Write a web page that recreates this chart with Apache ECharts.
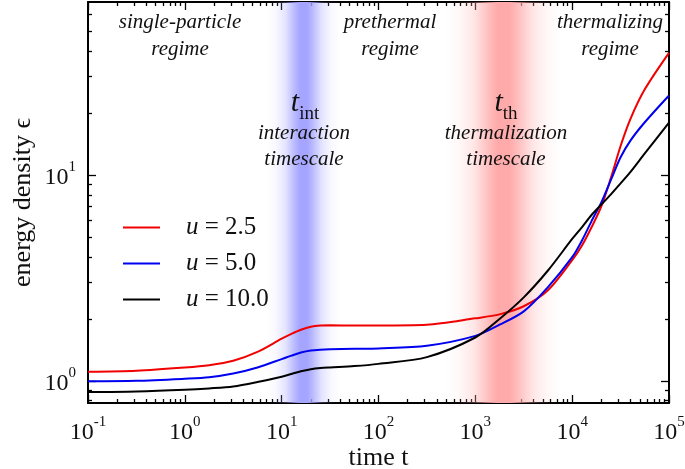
<!DOCTYPE html>
<html><head><meta charset="utf-8">
<script src="https://cdn.jsdelivr.net/npm/echarts@6/dist/echarts.min.js"></script>
<style>html,body{margin:0;padding:0;background:#fff}#c{width:685px;height:469px}</style>
</head><body><div id="c"></div>
<script>
// ---- data ----
const timeGrid = [0.1, 0.316, 1, 1.78, 3.16, 5.62, 10, 12.6, 15.8, 20, 25.1, 31.6, 56.2, 100, 316, 1000, 1778, 3162, 5623, 10000, 12589, 15849, 19953, 25119, 31623, 39811, 56234, 100000];
const seriesNames = ['u = 2.5', 'u = 5.0', 'u = 10.0'];
const uValues = ['2.5', '5.0', '10.0'];
const seriesColors = ['#f00000', '#0000f0', '#000000'];
const energyU25 = [1.106,1.12,1.16,1.19,1.25,1.38,1.60,1.69,1.77,1.83,1.855,1.86,1.855,1.855,1.87,2.01,2.10,2.30,2.75,3.85,4.52,5.56,7.0,9.66,13.8,18.6,26.0,39.1];
const energyU50 = [0.995,1.0,1.023,1.04,1.084,1.161,1.274,1.324,1.371,1.403,1.416,1.422,1.429,1.435,1.479,1.652,1.871,2.173,2.851,3.981,4.786,5.957,7.328,9.441,12.16,14.62,17.99,24.27];
const energyU100 = [0.881,0.887,0.904,0.918,0.938,0.986,1.047,1.079,1.112,1.138,1.153,1.161,1.178,1.208,1.303,1.622,1.995,2.54,3.43,4.88,5.56,6.38,7.16,8.04,9.08,10.3,12.7,17.9];
const xMajorTicks = [0.1, 1, 10, 100, 1000, 10000, 100000];
const xTickExponents = ['-1', '0', '1', '2', '3', '4', '5'];
const yMajorTicks = [1, 10];
const yTickExponents = ['0', '1'];
const yMinorTicks = [0.8, 0.9, 2, 3, 4, 5, 6, 7, 8, 9, 20, 30, 40, 50, 60];
const xRange = [0.1, 100000];
const yRange = [0.78, 69];
const interactionBand = [7.1, 40];
const thermalizationBand = [486, 7850];

const xMinorTicks = [];
for (let d = 0.1; d < 100000; d *= 10) for (let m = 2; m <= 9; m++) xMinorTicks.push(+(d * m).toPrecision(3));

const FONT = '"Liberation Serif", "DejaVu Serif", serif';

const chart = echarts.init(document.getElementById('c'), null, {renderer: 'canvas'});

function tickLabel(ticks, exps) {
  return function (v) {
    let i = -1, best = 1e9;
    ticks.forEach((t, k) => { const e = Math.abs(Math.log10(t) - Math.log10(v)); if (e < best) { best = e; i = k; } });
    return '{b|10}{s|' + exps[i] + '}';
  };
}
const labelRich = {
  b: {fontFamily: FONT, fontSize: 24, color: '#111', lineHeight: 30, verticalAlign: 'bottom'},
  s: {fontFamily: FONT, fontSize: 15, color: '#111', lineHeight: 30, verticalAlign: 'top', padding: [0, 0, 10, 0]}
};

function xAx(pos, ticks, len, labels, line) {
  return {
    type: 'log', logBase: 10, position: pos, min: xRange[0], max: xRange[1],
    axisLine: {show: line, onZero: false, lineStyle: {color: '#000', width: 2}},
    axisTick: {show: true, inside: true, length: len, customValues: ticks, lineStyle: {color: '#000', width: 1.3}},
    axisLabel: labels ? {show: true, customValues: ticks, margin: 12, formatter: tickLabel(xMajorTicks, xTickExponents), rich: labelRich} : {show: false},
    splitLine: {show: false},
    name: labels ? 'time t' : '', nameLocation: 'middle', nameGap: 42, nameMoveOverlap: false,
    nameTextStyle: {fontFamily: FONT, fontSize: 26, color: '#111'}
  };
}
function yAx(pos, ticks, len, labels, line) {
  return {
    type: 'log', logBase: 10, position: pos, min: yRange[0], max: yRange[1],
    axisLine: {show: line, onZero: false, lineStyle: {color: '#000', width: 2}},
    axisTick: {show: true, inside: true, length: len, customValues: ticks, lineStyle: {color: '#000', width: 1.3}},
    axisLabel: labels ? {show: true, customValues: ticks, margin: 12, formatter: tickLabel(yMajorTicks, yTickExponents), rich: labelRich} : {show: false},
    splitLine: {show: false},
    name: labels ? 'energy density \u03f5' : '', nameLocation: 'middle', nameGap: 52, nameMoveOverlap: false,
    nameTextStyle: {fontFamily: FONT, fontSize: 26, color: '#111'}
  };
}

function bandStyle(r, g, b) {
  const c = a => 'rgba(' + r + ',' + g + ',' + b + ',' + a + ')';
  return {
    color: {type: 'linear', x: 0, y: 0, x2: 1, y2: 0, colorStops: [
      {offset: 0, color: c(0)}, {offset: 0.12, color: c(0.08)}, {offset: 0.25, color: c(0.3)},
      {offset: 0.37, color: c(0.75)}, {offset: 0.45, color: c(1)}, {offset: 0.55, color: c(1)},
      {offset: 0.63, color: c(0.75)}, {offset: 0.75, color: c(0.3)}, {offset: 0.88, color: c(0.08)}, {offset: 1, color: c(0)}
    ]}
  };
}

const energies = [energyU25, energyU50, energyU100];
const lineSeries = energies.map((arr, k) => ({
  name: seriesNames[k], type: 'line', xAxisIndex: 0, yAxisIndex: 0,
  data: timeGrid.map((t, i) => [t, arr[i]]),
  symbol: 'none', smooth: 0.3, z: 5,
  lineStyle: {color: seriesColors[k], width: 2}, itemStyle: {color: seriesColors[k]}
}));

const bandSeries = {
  type: 'line', data: [], xAxisIndex: 0, yAxisIndex: 0, z: 1, silent: true,
  markArea: {silent: true, data: [
    [{xAxis: interactionBand[0], itemStyle: bandStyle(165, 165, 255)}, {xAxis: interactionBand[1]}],
    [{xAxis: thermalizationBand[0], itemStyle: bandStyle(255, 170, 170)}, {xAxis: thermalizationBand[1]}]
  ]}
};

const ital = (text, x, y) => ({type: 'text', x: x, y: y, z: 10, style: {text: text, align: 'center', verticalAlign: 'middle', font: 'italic 21px ' + FONT, fill: '#111'}});
const tsym = (sub, x, y) => ({type: 'text', x: x, y: y, z: 10, style: {
  text: '{t|t}{s|' + sub + '}', align: 'center', verticalAlign: 'middle',
  rich: {t: {fontFamily: FONT, fontStyle: 'italic', fontSize: 30, lineHeight: 30, verticalAlign: 'top', fill: '#111'},
         s: {fontFamily: FONT, fontSize: 19, lineHeight: 36, verticalAlign: 'bottom', fill: '#111'}}
}});

chart.setOption({
  animation: false,
  backgroundColor: '#fff',
  grid: {left: 88, right: 16, top: 2, bottom: 66, containLabel: false, outerBoundsMode: 'none'},
  xAxis: [xAx('bottom', xMajorTicks, 8, true, true), xAx('bottom', xMinorTicks, 4, false, false),
          xAx('top', xMajorTicks, 8, false, true), xAx('top', xMinorTicks, 4, false, false)],
  yAxis: [yAx('left', yMajorTicks, 8, true, true), yAx('left', yMinorTicks, 4, false, false),
          yAx('right', yMajorTicks, 8, false, true), yAx('right', yMinorTicks, 4, false, false)],
  legend: {
    orient: 'vertical', left: 118, top: 210, itemWidth: 37, itemHeight: 2, itemGap: 11,
    icon: 'rect',
    data: seriesNames, selectedMode: false,
    formatter: name => '{g|}{u|u}{r| = ' + uValues[seriesNames.indexOf(name)] + '}',
    textStyle: {rich: {
      g: {width: 21},
      u: {fontFamily: FONT, fontStyle: 'italic', fontSize: 25, color: '#111', lineHeight: 26},
      r: {fontFamily: FONT, fontSize: 25, color: '#111', lineHeight: 26}
    }}
  },
  graphic: [
    ital('single-particle', 180, 22), ital('regime', 180, 49),
    ital('prethermal', 390, 22), ital('regime', 390, 49),
    ital('thermalizing', 610, 22), ital('regime', 610, 49),
    tsym('int', 305, 106), ital('interaction', 304, 133), ital('timescale', 304, 159),
    tsym('th', 506, 106), ital('thermalization', 506, 133), ital('timescale', 506, 159)
  ],
  series: [bandSeries].concat(lineSeries)
});
</script></body></html>
